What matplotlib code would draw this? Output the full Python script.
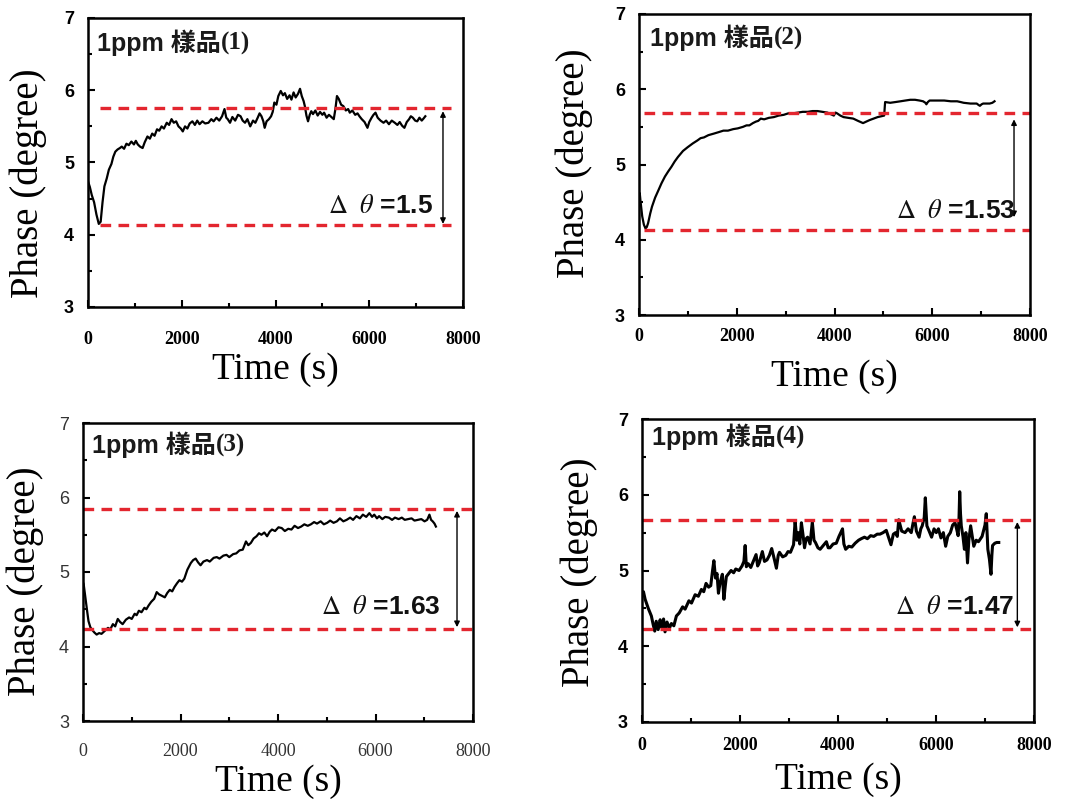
import matplotlib
matplotlib.use("Agg")
import matplotlib.pyplot as plt
from matplotlib.ticker import MultipleLocator

plt.rcParams["mathtext.fontset"] = "stix"

W, H = 1077, 807

# ---- data ----
t1 = [0, 40, 80, 130, 180, 230, 270, 310, 350, 400, 445, 500, 540, 583, 630, 680, 720, 770,
      820, 870, 925, 980, 1020, 1062, 1110, 1165, 1210, 1268, 1320, 1370, 1420, 1473, 1520,
      1570, 1620, 1680, 1730, 1782, 1830, 1880, 1930, 1980, 2022, 2070, 2120, 2170, 2227,
      2280, 2330, 2380, 2440, 2500, 2570, 2630, 2680, 2740, 2800, 2860, 2912, 2950, 2981,
      3030, 3080, 3140, 3200, 3255, 3300, 3350, 3400, 3461, 3520, 3570, 3620, 3660, 3701,
      3740, 3769, 3810, 3860, 3906, 3940, 3975, 4020, 4060, 4112, 4160, 4200, 4249, 4300,
      4340, 4386, 4430, 4480, 4523, 4560, 4600, 4626, 4660, 4694, 4730, 4763, 4800, 4850,
      4900, 4950, 5000, 5037, 5090, 5140, 5190, 5243, 5280, 5311, 5350, 5400, 5448, 5500,
      5550, 5585, 5640, 5700, 5750, 5791, 5840, 5900, 5962, 6000, 6050, 6090, 6133, 6180,
      6240, 6305, 6360, 6420, 6480, 6545, 6600, 6650, 6700, 6750, 6800, 6850, 6887, 6930,
      6980, 7024, 7070, 7120, 7160, 7196]
p1 = [4.74, 4.66, 4.55, 4.45, 4.28, 4.15, 4.18, 4.45, 4.67, 4.78, 4.90, 4.98, 5.08, 5.15,
      5.18, 5.20, 5.22, 5.19, 5.26, 5.24, 5.29, 5.25, 5.30, 5.25, 5.22, 5.20, 5.28, 5.36,
      5.33, 5.40, 5.37, 5.46, 5.44, 5.50, 5.47, 5.55, 5.52, 5.60, 5.55, 5.57, 5.50, 5.47,
      5.43, 5.50, 5.47, 5.54, 5.57, 5.52, 5.58, 5.53, 5.57, 5.54, 5.55, 5.60, 5.57, 5.62,
      5.58, 5.64, 5.74, 5.62, 5.60, 5.55, 5.63, 5.58, 5.66, 5.64, 5.58, 5.55, 5.60, 5.50,
      5.58, 5.55, 5.62, 5.68, 5.64, 5.57, 5.48, 5.57, 5.60, 5.64, 5.70, 5.83, 5.80, 5.92,
      5.99, 5.93, 5.96, 5.88, 5.93, 5.87, 5.97, 5.90, 5.95, 6.02, 5.92, 5.85, 5.78, 5.65,
      5.57, 5.66, 5.71, 5.67, 5.72, 5.65, 5.70, 5.66, 5.69, 5.62, 5.66, 5.63, 5.60, 5.75,
      5.92, 5.88, 5.80, 5.78, 5.72, 5.74, 5.69, 5.72, 5.66, 5.68, 5.64, 5.60, 5.56, 5.48,
      5.56, 5.62, 5.66, 5.69, 5.62, 5.58, 5.55, 5.58, 5.53, 5.58, 5.55, 5.52, 5.56, 5.51,
      5.48, 5.56, 5.60, 5.64, 5.62, 5.58, 5.57, 5.62, 5.58, 5.61, 5.64]

t2 = [0, 15, 33, 66, 100, 133, 160, 186, 230, 266, 330, 399, 460, 531, 600, 664, 730, 797,
      900, 996, 1100, 1196, 1260, 1329, 1420, 1528, 1630, 1727, 1820, 1927, 2020, 2126,
      2200, 2259, 2330, 2392, 2440, 2491, 2560, 2657, 2760, 2857, 2960, 3056, 3150, 3255,
      3350, 3454, 3550, 3654, 3750, 3853, 3920, 3986, 4020, 4052, 4120, 4185, 4280, 4384,
      4480, 4584, 4650, 4717, 4800, 4883, 4950, 5016, 5030, 5036, 5140, 5248, 5350, 5448,
      5550, 5647, 5740, 5813, 5860, 5880, 5910, 5946, 6100, 6245, 6380, 6510, 6580, 6643,
      6780, 6909, 6950, 6975, 7010, 7042, 7175, 7230, 7274]
p2 = [4.58, 4.62, 4.50, 4.31, 4.20, 4.15, 4.17, 4.22, 4.35, 4.44, 4.56, 4.66, 4.75, 4.84,
      4.91, 4.97, 5.04, 5.10, 5.18, 5.23, 5.28, 5.32, 5.35, 5.36, 5.39, 5.41, 5.43, 5.45,
      5.45, 5.47, 5.48, 5.50, 5.52, 5.52, 5.55, 5.57, 5.58, 5.61, 5.60, 5.62, 5.63, 5.65,
      5.66, 5.68, 5.68, 5.69, 5.70, 5.70, 5.71, 5.71, 5.70, 5.69, 5.67, 5.65, 5.69, 5.68,
      5.65, 5.63, 5.62, 5.61, 5.58, 5.55, 5.57, 5.59, 5.61, 5.63, 5.64, 5.65, 5.78, 5.83,
      5.82, 5.83, 5.84, 5.85, 5.86, 5.86, 5.85, 5.84, 5.82, 5.80, 5.83, 5.85, 5.85, 5.85,
      5.84, 5.84, 5.83, 5.82, 5.81, 5.81, 5.79, 5.78, 5.80, 5.81, 5.81, 5.82, 5.84]

t3 = [0, 13, 40, 67, 90, 113, 150, 180, 230, 280, 330, 380, 413, 460, 513, 560, 613, 660,
      713, 760, 813, 880, 946, 1000, 1060, 1100, 1146, 1200, 1260, 1300, 1345, 1400, 1460,
      1512, 1560, 1620, 1678, 1730, 1780, 1830, 1878, 1930, 1978, 2030, 2078, 2140, 2211,
      2260, 2311, 2360, 2411, 2470, 2544, 2600, 2680, 2744, 2800, 2880, 2944, 3000, 3080,
      3144, 3210, 3277, 3343, 3390, 3443, 3500, 3560, 3610, 3660, 3720, 3776, 3830, 3876,
      3940, 4010, 4076, 4140, 4210, 4276, 4340, 4410, 4476, 4540, 4610, 4675, 4740, 4800,
      4875, 4940, 5008, 5070, 5140, 5208, 5270, 5340, 5408, 5480, 5540, 5608, 5680, 5741,
      5810, 5874, 5930, 5974, 6030, 6074, 6140, 6200, 6274, 6340, 6400, 6474, 6540, 6600,
      6673, 6740, 6800, 6873, 6940, 7006, 7060, 7106, 7140, 7173, 7210, 7239]
p3 = [4.86, 4.84, 4.70, 4.57, 4.45, 4.34, 4.26, 4.23, 4.19, 4.16, 4.18, 4.17, 4.19, 4.22,
      4.25, 4.23, 4.30, 4.27, 4.37, 4.33, 4.30, 4.36, 4.39, 4.37, 4.44, 4.42, 4.48, 4.46,
      4.52, 4.50, 4.55, 4.60, 4.64, 4.73, 4.70, 4.68, 4.66, 4.72, 4.76, 4.74, 4.80, 4.85,
      4.89, 4.87, 4.91, 5.03, 5.12, 5.16, 5.18, 5.13, 5.09, 5.14, 5.16, 5.14, 5.19, 5.20,
      5.18, 5.22, 5.23, 5.20, 5.24, 5.25, 5.29, 5.30, 5.41, 5.36, 5.39, 5.45, 5.48, 5.52,
      5.50, 5.53, 5.48, 5.54, 5.57, 5.55, 5.60, 5.59, 5.55, 5.58, 5.57, 5.62, 5.59, 5.61,
      5.64, 5.62, 5.64, 5.67, 5.65, 5.68, 5.64, 5.66, 5.69, 5.66, 5.68, 5.72, 5.68, 5.70,
      5.73, 5.70, 5.75, 5.72, 5.77, 5.74, 5.79, 5.74, 5.77, 5.72, 5.75, 5.71, 5.74, 5.73,
      5.70, 5.73, 5.71, 5.73, 5.70, 5.71, 5.72, 5.69, 5.70, 5.71, 5.68, 5.70, 5.77, 5.70,
      5.68, 5.65, 5.61]

t4 = [0, 30, 64, 128, 191, 230, 260, 290, 330, 370, 400, 440, 470, 510, 560, 600, 650, 702,
      760, 829, 880, 957, 1010, 1084, 1150, 1212, 1260, 1307, 1360, 1403, 1440, 1467, 1500,
      1531, 1560, 1594, 1640, 1671, 1700, 1722, 1770, 1818, 1870, 1913, 1980, 2041, 2080,
      2105, 2130, 2168, 2220, 2264, 2328, 2360, 2392, 2456, 2500, 2551, 2600, 2647, 2700,
      2743, 2780, 2806, 2870, 2934, 2980, 3030, 3093, 3110, 3125, 3160, 3189, 3220, 3253,
      3290, 3317, 3350, 3380, 3430, 3476, 3510, 3540, 3590, 3635, 3700, 3763, 3800, 3837,
      3900, 3965, 4020, 4092, 4120, 4156, 4220, 4283, 4350, 4420, 4475, 4540, 4600, 4666,
      4730, 4800, 4857, 4920, 4985, 5030, 5081, 5130, 5176, 5210, 5240, 5300, 5368, 5430,
      5495, 5530, 5559, 5600, 5655, 5690, 5719, 5760, 5782, 5800, 5814, 5860, 5910, 5960,
      6006, 6050, 6101, 6150, 6197, 6240, 6293, 6340, 6388, 6420, 6452, 6470, 6484, 6500,
      6516, 6550, 6580, 6610, 6643, 6670, 6707, 6740, 6771, 6820, 6867, 6940, 7000, 7026,
      7042, 7058, 7090, 7122, 7140, 7154, 7200, 7240, 7281]
p4 = [4.68, 4.72, 4.62, 4.50, 4.40, 4.28, 4.20, 4.33, 4.22, 4.35, 4.25, 4.36, 4.19, 4.32,
      4.24, 4.30, 4.27, 4.40, 4.44, 4.52, 4.49, 4.60, 4.57, 4.68, 4.66, 4.75, 4.72, 4.83,
      4.78, 4.80, 5.00, 5.13, 4.90, 4.96, 4.70, 4.84, 4.95, 4.62, 4.80, 4.92, 4.96, 5.00,
      4.97, 5.02, 5.00, 5.06, 5.12, 5.33, 5.05, 5.09, 5.04, 5.11, 5.21, 5.06, 5.10, 5.25,
      5.12, 5.14, 5.20, 5.29, 5.15, 5.03, 5.20, 5.24, 5.18, 5.20, 5.25, 5.24, 5.34, 5.50,
      5.65, 5.40, 5.50, 5.35, 5.63, 5.45, 5.30, 5.42, 5.44, 5.35, 5.64, 5.40, 5.37, 5.30,
      5.28, 5.33, 5.38, 5.30, 5.30, 5.35, 5.36, 5.45, 5.55, 5.35, 5.28, 5.32, 5.31, 5.36,
      5.40, 5.42, 5.44, 5.42, 5.46, 5.45, 5.48, 5.48, 5.50, 5.53, 5.44, 5.34, 5.48, 5.50,
      5.45, 5.67, 5.52, 5.50, 5.55, 5.50, 5.62, 5.71, 5.52, 5.44, 5.55, 5.59, 5.70, 5.96,
      5.75, 5.59, 5.52, 5.44, 5.55, 5.50, 5.55, 5.43, 5.50, 5.32, 5.45, 5.50, 5.60, 5.63,
      5.55, 5.46, 5.70, 6.04, 5.75, 5.59, 5.45, 5.28, 5.50, 5.10, 5.40, 5.59, 5.45, 5.32,
      5.40, 5.38, 5.45, 5.60, 5.75, 5.50, 5.28, 5.15, 4.95, 5.20, 5.33, 5.36, 5.37, 5.37]

times = [t1, t2, t3, t4]
phases = [p1, p2, p3, p4]
labels = ["(1)", "(2)", "(3)", "(4)"]
upper = [5.76, 5.69, 5.84, 5.67]
lower = [4.13, 4.13, 4.24, 4.23]
delta_txt = ["1.5", "1.53", "1.63", "1.47"]

# ---- layout (pixels in the 1077x807 picture) ----
# left, right, top, bottom of each axes box
BOX = [(88, 463, 18, 307), (639, 1030, 14, 315), (83, 473, 423, 721), (642, 1034, 419, 722)]
XPAD = [17, 9, 16, 11]          # x tick label pad (pt)
YLAB = [(28, 183), (574, 163), (25, 581), (579, 572)]
XLAB_DY = [63, 62, 61, 58]
TITLE_OFF = [(9, 25), (11, 24), (9, 22), (10, 18)]
LINE_SPAN = [(250, 7750), (100, 8000), (0, 8000), (0, 8040)]
ARROW = [(7573, 4.15, 5.71), (7673, 4.30, 5.60), (7672, 4.26, 5.82), (7660, 4.25, 5.64)]
TEXT_POS = [(7360, 4.40), (7707, 4.38), (7330, 4.53), (7591, 4.52)]

RED = "#e3262f"

fig = plt.figure(figsize=(W / 100, H / 100), dpi=100)
renderer = fig.canvas.get_renderer()

for k in range(4):
    l, r, t, b = BOX[k]
    ax = fig.add_axes([l / W, 1 - b / H, (r - l) / W, (b - t) / H])
    bold = "normal" if k == 2 else "bold"
    tcol = "#333333" if k == 2 else "black"
    ax.plot(times[k], phases[k], color="black", lw=2.2 if k == 3 else 1.6)
    xs, xe = LINE_SPAN[k]
    for yv in (upper[k], lower[k]):
        ax.plot([xs, xe], [yv, yv], color=RED, lw=2.4, ls=(0, (3.2, 2.2)), clip_on=False)
    xa, y0, y1 = ARROW[k]
    ax.annotate("", xy=(xa, y1), xytext=(xa, y0),
                arrowprops=dict(arrowstyle="<|-|>", color="black", lw=1.0,
                                mutation_scale=8, shrinkA=0, shrinkB=0))
    tx, ty = TEXT_POS[k]
    ax.text(tx, ty, r"$\Delta\ \ \theta$ =" + delta_txt[k], ha="right", va="center",
            fontsize=19, fontweight="bold", family="Liberation Sans", color="#111111")

    ax.set_xlim(0, 8000)
    ax.set_ylim(3, 7)
    ax.xaxis.set_major_locator(MultipleLocator(2000))
    ax.xaxis.set_minor_locator(MultipleLocator(1000))
    ax.yaxis.set_major_locator(MultipleLocator(1))
    ax.yaxis.set_minor_locator(MultipleLocator(0.5))
    ax.tick_params(which="both", direction="in", width=1.5, top=False, right=False,
                   labelcolor=tcol)
    ax.tick_params(which="major", length=5)
    ax.tick_params(which="minor", length=3)
    ax.tick_params(axis="x", pad=XPAD[k])
    ax.tick_params(axis="y", pad=10)
    for s in ax.spines.values():
        s.set_linewidth(1.8)
    for lab in ax.get_xticklabels():
        lab.set_family("Liberation Serif")
        lab.set_fontweight(bold)
        lab.set_fontsize(13)
    for lab in ax.get_yticklabels():
        lab.set_family("Liberation Sans")
        lab.set_fontweight(bold)
        lab.set_fontsize(13)

    # panel tag: "1ppm 樣品" in sans/CJK, the number in serif
    ox, oy = TITLE_OFF[k]
    tag = fig.text((l + ox) / W, 1 - (t + oy) / H, "1ppm 樣品", ha="left", va="center",
                   fontsize=18, fontweight="bold", color="#1a1a1a",
                   family=["Liberation Sans", "Noto Sans CJK TC"])
    bb = tag.get_window_extent(renderer)
    fig.text(bb.x1 / W, 1 - (t + oy) / H, labels[k], ha="left", va="center",
             fontsize=18, fontweight="bold", color="#1a1a1a", family="Liberation Serif")

    # axis titles
    yx, yy = YLAB[k]
    fig.text(yx / W, 1 - yy / H, "Phase (degree)", rotation=90, ha="center", va="center",
             fontsize=28, family="Liberation Serif")
    fig.text((l + r) / 2 / W, 1 - (b + XLAB_DY[k]) / H, "Time (s)", ha="center", va="center",
             fontsize=27, family="Liberation Serif")

fig.savefig("out.png", dpi=100)
